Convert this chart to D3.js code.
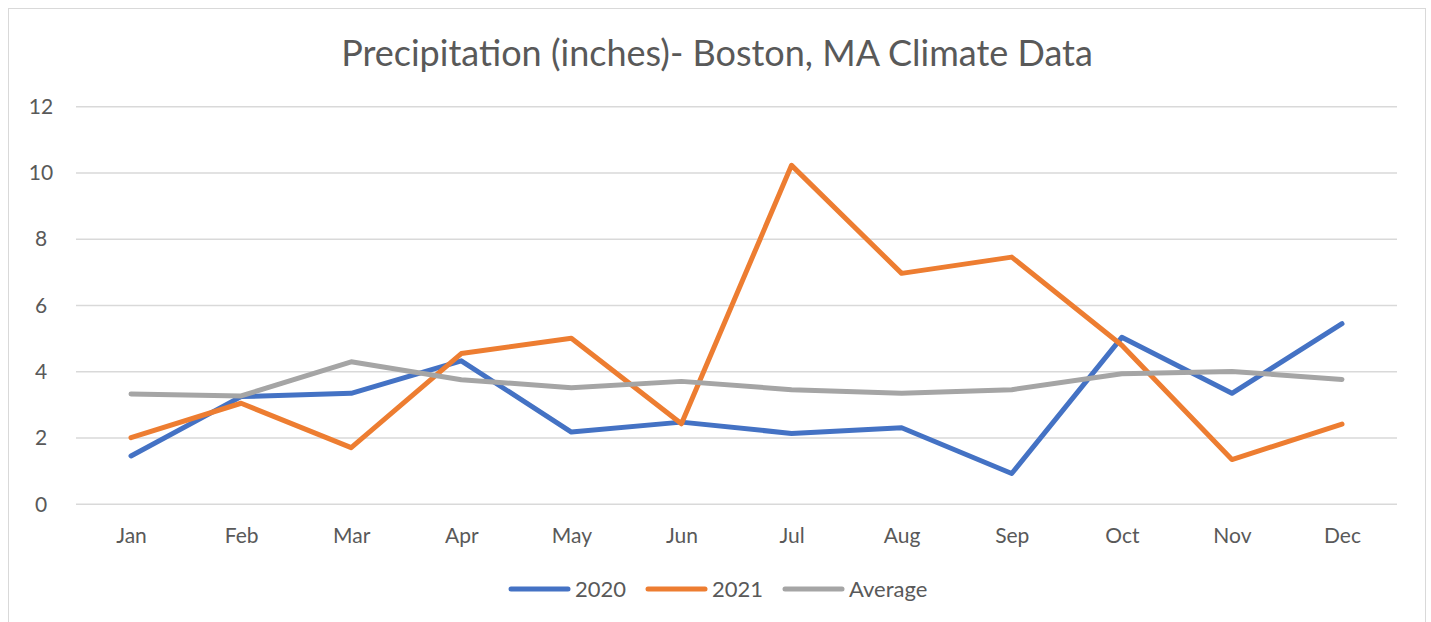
<!DOCTYPE html>
<html>
<head>
<meta charset="utf-8">
<script src="https://cdn.jsdelivr.net/npm/d3@7"></script>
<style>
  body { margin: 0; background: #fff; }
  svg text { font-family: Lato, "Open Sans", sans-serif; fill: #595959; }
</style>
</head>
<body>
<svg id="chart" width="1431" height="622"></svg>
<script>
"use strict";

// данные
const months = ["Jan", "Feb", "Mar", "Apr", "May", "Jun", "Jul", "Aug", "Sep", "Oct", "Nov", "Dec"];
const values2020 = [1.46, 3.25, 3.35, 4.33, 2.18, 2.48, 2.14, 2.31, 0.93, 5.04, 3.35, 5.45];
const values2021 = [2.01, 3.05, 1.71, 4.55, 5.01, 2.43, 10.23, 6.97, 7.46, 4.80, 1.35, 2.42];
const valuesAvg = [3.33, 3.27, 4.30, 3.76, 3.52, 3.71, 3.46, 3.35, 3.46, 3.94, 4.01, 3.77];
const yTicks = [0, 2, 4, 6, 8, 10, 12];

const series = [
    {name: "2020", values: values2020, color: "#4472C4"},
    {name: "2021", values: values2021, color: "#ED7D31"},
    {name: "Average", values: valuesAvg, color: "#A5A5A5"},
];

const svg = d3.select("#chart");

// рамка графика
svg.append("rect")
    .attr("x", 8.5).attr("y", 8.5)
    .attr("width", 1417).attr("height", 640)
    .attr("fill", "#fff")
    .attr("stroke", "#D9D9D9");

svg.append("text")
    .attr("x", 717).attr("y", 66)
    .attr("text-anchor", "middle")
    .style("font-size", "36px")
    .text("Precipitation (inches)- Boston, MA Climate Data");

const x = d3.scalePoint().domain(months).range([131, 1342]);
const y = d3.scaleLinear().domain([0, 12]).range([504.3, 106.7]);

// сетка
svg.append("g")
    .selectAll("line")
    .data(yTicks)
    .join("line")
    .attr("x1", 76).attr("x2", 1397)
    .attr("y1", d => y(d)).attr("y2", d => y(d))
    .attr("stroke", "#D9D9D9")
    .attr("stroke-width", 1.5);

// ось Y
const yAxis = svg.append("g")
    .attr("transform", "translate(41,0)")
    .call(d3.axisLeft(y).tickValues(yTicks).tickSize(0).tickPadding(0));
yAxis.select(".domain").remove();
yAxis.selectAll("text")
    .attr("text-anchor", "middle")
    .style("font-size", "21px")
    .style("fill", "#595959")
    .style("font-family", "Lato, 'Open Sans', sans-serif");

// ось X
const xAxis = svg.append("g")
    .attr("transform", "translate(0,528)")
    .call(d3.axisBottom(x).tickSize(0).tickPadding(0));
xAxis.select(".domain").remove();
xAxis.selectAll("text")
    .style("font-size", "21px")
    .style("fill", "#595959")
    .style("font-family", "Lato, 'Open Sans', sans-serif");

// линии
const line = d3.line()
    .x((d, i) => x(months[i]))
    .y(d => y(d));

svg.append("g")
    .selectAll("path")
    .data(series)
    .join("path")
    .attr("d", d => line(d.values))
    .attr("fill", "none")
    .attr("stroke", d => d.color)
    .attr("stroke-width", 5)
    .attr("stroke-linejoin", "round")
    .attr("stroke-linecap", "round");

// легенда
const legendX = [511, 648, 785];
const legend = svg.append("g")
    .selectAll("g")
    .data(series)
    .join("g")
    .attr("transform", (d, i) => `translate(${legendX[i]},589)`);
legend.append("line")
    .attr("x1", 0).attr("x2", 57)
    .attr("stroke", d => d.color)
    .attr("stroke-width", 5)
    .attr("stroke-linecap", "round");
legend.append("text")
    .attr("x", 64).attr("y", 8)
    .style("font-size", "22px")
    .text(d => d.name);
</script>
</body>
</html>
